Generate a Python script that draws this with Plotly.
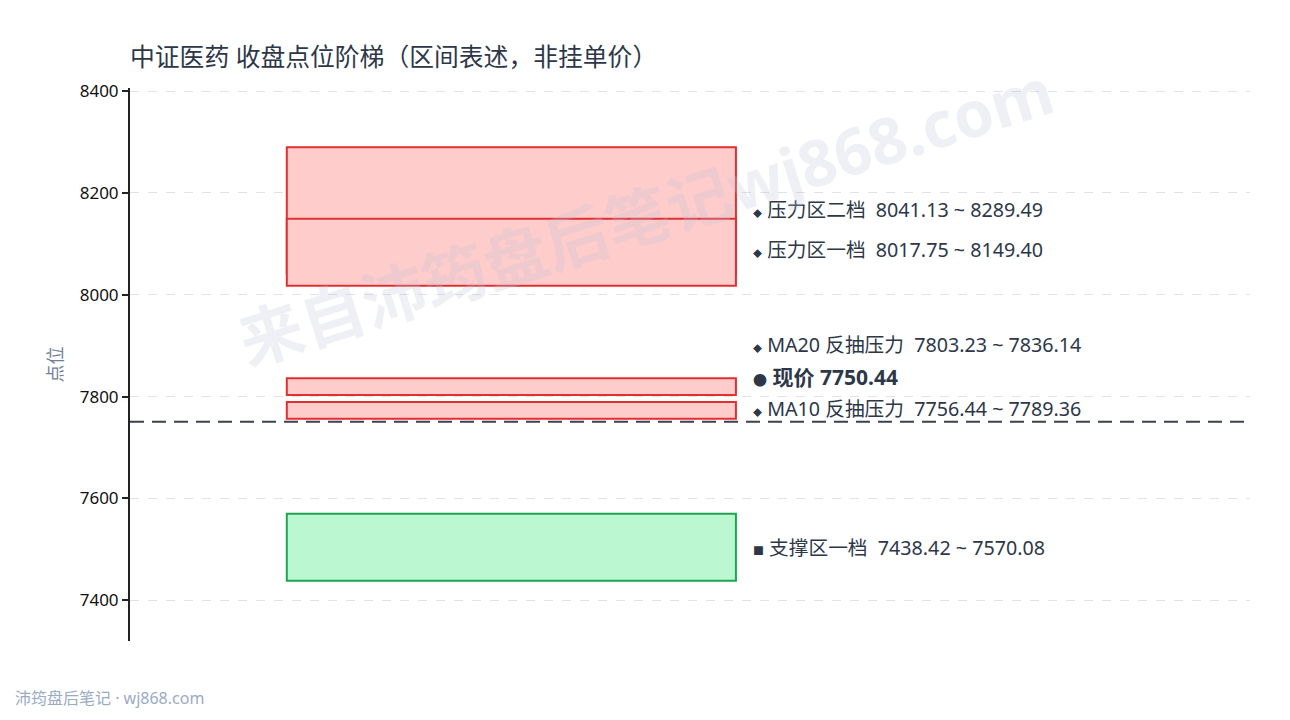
import plotly.graph_objects as go

# zones on the ladder, drawn in this order (later ones sit on top)
zone_names = ["压力区二档", "压力区一档", "MA20 反抽压力", "MA10 反抽压力", "支撑区一档"]
zone_low = [8041.13, 8017.75, 7803.23, 7756.44, 7438.42]
zone_high = [8289.49, 8149.40, 7836.14, 7789.36, 7570.08]
zone_kind = ["pressure", "pressure", "pressure", "pressure", "support"]

current_price = 7750.44
y_ticks = [7400, 7600, 7800, 8000, 8200, 8400]

title = "中证医药 收盘点位阶梯（区间表述，非挂单价）"
watermark = "来自沛筠盘后笔记wj868.com"
footer = "沛筠盘后笔记 · wj868.com"

colors = {
    "pressure": ("#ffcccc", "#e03030"),
    "support": ("#bbf7d0", "#1fa552"),
}

# label placement (spread out so the texts don't collide)
label_y = {
    "压力区二档": 8168,
    "压力区一档": 8088,
    "MA20 反抽压力": 7903,
    "现价": 7838,
    "MA10 反抽压力": 7777,
    "支撑区一档": 7504,
}

BOX_X0, BOX_X1, LABEL_X = 0.14, 0.541, 0.5545
TEXT = "#2d3748"
FONT = "Noto Sans, Noto Sans CJK SC"

fig = go.Figure()
# invisible trace so the axes exist
fig.add_trace(go.Scatter(x=[0, 1], y=[current_price, current_price], mode="lines",
                         line=dict(color="rgba(0,0,0,0)"), hoverinfo="skip", showlegend=False))

for name, lo, hi, kind in zip(zone_names, zone_low, zone_high, zone_kind):
    fill, line = colors[kind]
    fig.add_shape(type="rect", xref="x", yref="y", x0=BOX_X0, x1=BOX_X1, y0=lo, y1=hi,
                  fillcolor=fill, line=dict(color=line, width=2), layer="above")
    sym = "■" if kind == "support" else "◆"
    sym_size = 11 if kind == "support" else 9
    fig.add_annotation(
        x=LABEL_X, y=label_y[name], xref="x", yref="y", xanchor="left", yanchor="middle",
        showarrow=False,
        text=f"<span style='font-size:{sym_size}px'>{sym}</span> {name}  {lo:.2f} ~ {hi:.2f}",
        font=dict(family=FONT, size=19.7, color=TEXT),
    )

fig.add_shape(type="line", xref="paper", yref="y", x0=0, x1=1, y0=current_price, y1=current_price,
              line=dict(color="#3a4252", width=2, dash="14px,8px"), layer="above")
fig.add_annotation(
    x=LABEL_X, y=label_y["现价"], xref="x", yref="y", xanchor="left", yanchor="middle",
    showarrow=False, text=f"<span style='font-size:14px'>●</span> <b>现价 {current_price:.2f}</b>",
    font=dict(family=FONT, size=21, color=TEXT),
)

# watermark
fig.add_annotation(
    x=0.46, y=0.77, xref="paper", yref="paper", xanchor="center", yanchor="middle",
    showarrow=False, textangle=-17.5,
    text=f"<b>{watermark}</b>", font=dict(family=FONT, size=64, color="rgba(190,196,215,0.26)"),
)
# footer
fig.add_annotation(
    x=-0.1045, y=-0.1266, xref="paper", yref="paper", xanchor="left", yanchor="bottom",
    showarrow=False, text=footer, font=dict(family=FONT, size=16, color="#9aabc4"),
)

# page has an 8px body margin, so the figure is sized to fit inside it
fig.update_layout(
    width=1274, height=704,
    margin=dict(l=122, r=32, t=80, b=71),
    paper_bgcolor="white", plot_bgcolor="white",
    title=dict(text=title, x=122 / 1274, xanchor="left", y=1 - 49 / 704, yanchor="middle",
               font=dict(family=FONT, size=24.8, color=TEXT)),
    xaxis=dict(visible=False, range=[0, 1], fixedrange=True),
    yaxis=dict(
        range=[7320, 8406], tickvals=y_ticks, showgrid=True, gridcolor="#e2e2e2",
        griddash="dash", gridwidth=1, zeroline=False,
        showline=True, linecolor="#222", linewidth=2,
        ticks="outside", ticklen=6, tickcolor="#222", tickwidth=1.5,
        tickfont=dict(family=FONT, size=17, color="#111"),
        title=dict(text="点位", standoff=12, font=dict(family=FONT, size=18, color="#718096")),
    ),
    showlegend=False,
)

fig.write_html("out.html")
